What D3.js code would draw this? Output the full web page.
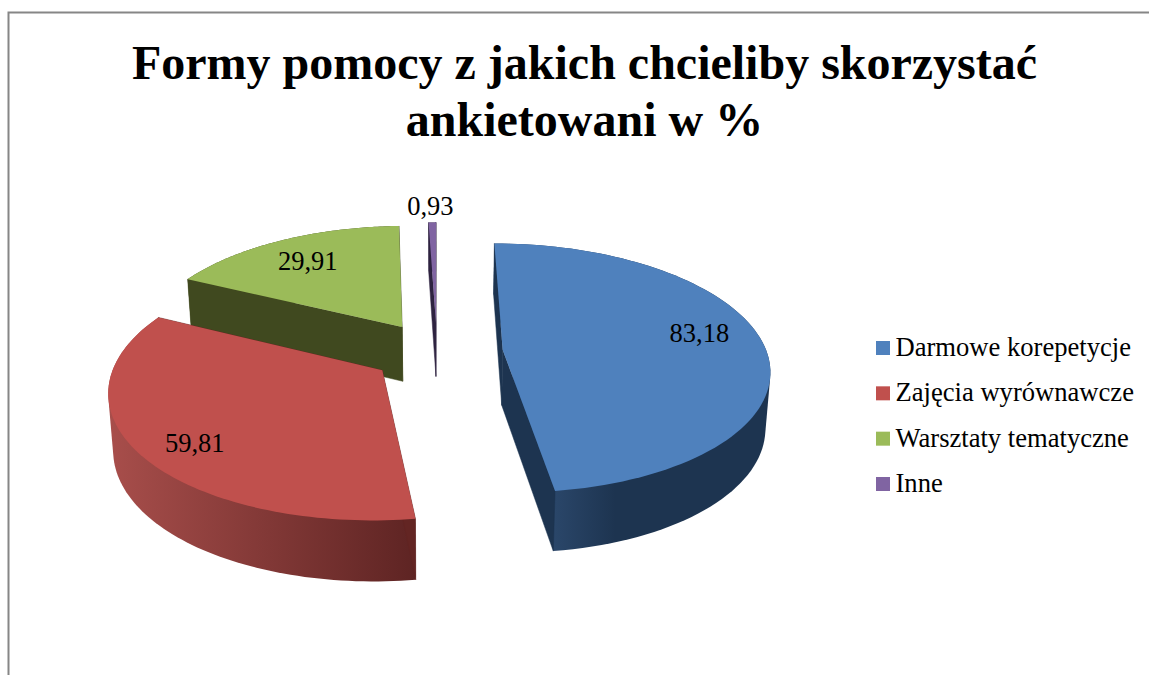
<!DOCTYPE html>
<html><head><meta charset="utf-8">
<script src="https://cdn.jsdelivr.net/npm/d3@7"></script>
<style>html,body{margin:0;background:#fff}svg{display:block}text{font-family:"Liberation Serif",serif;fill:#000}</style>
</head><body><div id="c"></div>
<script>
const categories = ["Darmowe korepetycje","Zajęcia wyrównawcze","Warsztaty tematyczne","Inne"];
const values = [83.18,59.81,29.91,0.93];
const valueLabels = ["83,18","59,81","29,91","0,93"];
const titleLines = ["Formy pomocy z jakich chcieliby skorzystać","ankietowani w %"];
const topColors = ["#4f81bd","#c0504d","#9bbb59","#8064a2"];
const radialWallColors = ["#1d3450","#632523","#40491f","#2e2340"];
const outerWallStops = [[[0,"#2a4669"],[.28,"#1d3450"],[1,"#1d3450"]],[[0,"#a84e4b"],[1,"#5e2423"]],[[0,"#40491f"],[1,"#40491f"]],[[0,"#2e2340"],[1,"#2e2340"]]];
const labelRadius = [.78,.815,.748,1.19];
const labelTurn = [-6.5,-4,-.6,-.3];

const W=1149,H=675,cx=437,cy=352,R=264,K=122.5,P=.145,EXPLODE=.25;
const svg=d3.select("#c").append("svg").attr("width",W).attr("height",H);
const defs=svg.append("defs");

svg.append("path").attr("d",`M8.5,${H}V12.5H${W}`).attr("fill","none").attr("stroke","#868686").attr("stroke-width",2);

svg.append("g").selectAll("text").data(titleLines).join("text")
  .attr("x",584.5).attr("y",(d,i)=>79+i*56.5).attr("text-anchor","middle")
  .attr("font-weight","bold").attr("font-size",48).text(d=>d);

const pie=d3.pie().sort(null)(values);
const proj=([x,y])=>{const s=1/(1-P*y);return [cx+R*x*s,cy+K*y*s];};
const under=([x,y])=>{const t=proj([x,y]);return [cx+(t[0]-cx)*.985,t[1]+55.3+5*y];};
const polar=(o,a,r)=>[o[0]+r*Math.sin(a),o[1]-r*Math.cos(a)];
const line=d3.line();

const slices=pie.map((p,i)=>{
  const mid=(p.startAngle+p.endAngle)/2;
  const o=[EXPLODE*Math.sin(mid),-EXPLODE*Math.cos(mid)];
  const angles=d3.range(0,91).map(j=>p.startAngle+(p.endAngle-p.startAngle)*j/90);
  return {i,mid,o,rim:angles.map(a=>polar(o,a,1))};
});

slices.forEach(d=>{
  const g=defs.append("linearGradient").attr("id","w"+d.i).attr("gradientUnits","userSpaceOnUse");
  const front=d.rim.filter(q=>q[1]>=0).map(q=>proj(q)[0]);
  const e=d3.extent(front.length?front:d.rim.map(q=>proj(q)[0]));
  g.attr("x1",e[0]).attr("x2",e[1]).attr("y1",0).attr("y2",0);
  outerWallStops[d.i].forEach(s=>g.append("stop").attr("offset",s[0]).attr("stop-color",s[1]));
});

// painter order: back slices first, the red one in front
[2,3,0,1].forEach(i=>{
  const d=slices[i];
  const g=svg.append("g");
  // outer wall: the hull of the top and bottom rims (each sector is convex)
  const hull=d3.polygonHull([...d.rim.map(proj),...d.rim.map(under)]);
  g.append("path").attr("fill",`url(#w${i})`).attr("d",line(hull)+"Z");
  [d.rim[0],d.rim[d.rim.length-1]].forEach(q=>{
    g.append("path").attr("fill",radialWallColors[i]).attr("stroke",radialWallColors[i]).attr("stroke-width",.5)
      .attr("d",line([proj(d.o),proj(q),under(q),under(d.o)])+"Z");
  });
  g.append("path").attr("fill",topColors[i])
    .attr("d",line([proj(d.o),...d.rim.map(proj)])+"Z");
});

svg.append("g").selectAll("text").data(slices).join("text")
  .attr("text-anchor","middle").attr("dominant-baseline","central").attr("font-size",26.5)
  .attr("x",d=>proj(polar(d.o,d.mid+labelTurn[d.i]*Math.PI/180,labelRadius[d.i]))[0])
  .attr("y",d=>proj(polar(d.o,d.mid+labelTurn[d.i]*Math.PI/180,labelRadius[d.i]))[1])
  .text(d=>valueLabels[d.i]);

const ly=d3.scalePoint().domain(categories).range([348,484]);
const leg=svg.append("g").selectAll("g").data(categories).join("g").attr("transform",d=>`translate(876,${ly(d)})`);
leg.append("rect").attr("y",-7).attr("width",14).attr("height",14).attr("fill",(d,i)=>topColors[i]);
leg.append("text").attr("x",19.5).attr("y",8).attr("font-size",26.6).text(d=>d);
</script></body></html>
